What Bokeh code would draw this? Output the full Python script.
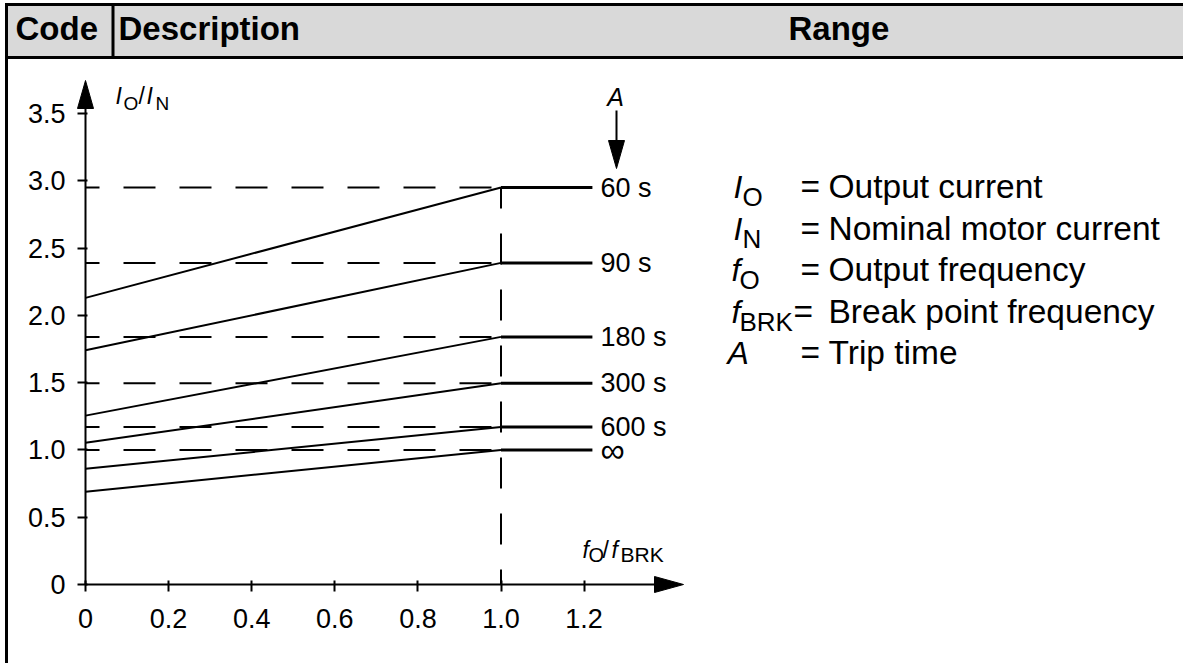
from bokeh.plotting import figure
from bokeh.models import Range1d, FixedTicker, ColumnDataSource
from bokeh.core.properties import value
from bokeh.embed import file_html
from bokeh.resources import INLINE

# ---------------- data ----------------
header_labels = ["Code", "Description", "Range"]
trip_labels = ["60 s", "90 s", "180 s", "300 s", "600 s", "\u221e"]
ratio_at_zero = [2.13, 1.74, 1.255, 1.053, 0.86, 0.69]
ratio_at_break = [2.95, 2.39, 1.84, 1.495, 1.17, 1.00]
freq_break = 1.0
freq_end = 1.22
x_ticks = [0, 0.2, 0.4, 0.6, 0.8, 1.0, 1.2]
x_tick_labels = ["0", "0.2", "0.4", "0.6", "0.8", "1.0", "1.2"]
y_ticks = [0, 0.5, 1.0, 1.5, 2.0, 2.5, 3.0, 3.5]
y_tick_labels = ["0", "0.5", "1.0", "1.5", "2.0", "2.5", "3.0", "3.5"]
legend_symbols = ["I", "I", "f", "f", "A"]
legend_subscripts = ["O", "N", "O", "BRK", ""]
legend_texts = ["Output current", "Nominal motor current", "Output frequency",
                "Break point frequency", "Trip time"]

# ---------------- layout helpers (reference pixel -> data) ----------------
W, H = 1183, 663
X0, XS = 85.0, 415.5
Y0, YS = 584.0, 134.57


def X(px):
    return (px - X0) / XS


def Y(py):
    return (Y0 - py) / YS


FONT = value("Liberation Sans")

p = figure(width=W, height=H, output_backend="svg", toolbar_location=None, tools="",
           x_range=Range1d(X(0), X(W)), y_range=Range1d(Y(H), Y(0)),
           min_border=0)
p.outline_line_color = None
p.grid.visible = False
p.background_fill_color = "white"
p.border_fill_color = "white"


def txt(xs, bases, texts, size, style="normal", align="left"):
    # bases: baseline positions in reference pixels; drawn with a middle baseline
    ys = [Y(b - 0.35 * size) for b in bases]
    p.text(x=xs, y=ys, text=texts, text_font=FONT, text_font_size=f"{size}px",
           text_font_style=style, text_align=align, text_baseline="middle",
           text_color="black")


# ---------------- table frame ----------------
p.quad(left=X(5), right=X(1200), top=Y(4), bottom=Y(57), fill_color="#d9d9d9", line_color=None)
p.line([X(4.5), X(1200)], [Y(4), Y(4)], line_color="black", line_width=3)
p.line([X(4.5), X(1200)], [Y(57), Y(57)], line_color="black", line_width=3)
p.line([X(6), X(6)], [Y(2.5), Y(700)], line_color="black", line_width=3)
p.line([X(112.5), X(112.5)], [Y(4), Y(57)], line_color="black", line_width=3)
txt([X(15), X(118), X(788)], [40] * 3, header_labels, 33, "bold")

# ---------------- axes ----------------
for ax in (p.xaxis[0], p.yaxis[0]):
    ax.fixed_location = 0
    ax.axis_line_color = None
    ax.major_tick_line_color = "black"
    ax.major_tick_line_width = 2
    ax.minor_tick_line_color = None
    ax.major_label_text_font = "Liberation Sans"
    ax.major_label_text_font_size = "27px"
    ax.major_label_text_color = "black"

p.xaxis[0].ticker = FixedTicker(ticks=x_ticks)
p.xaxis[0].major_label_overrides = dict(zip(x_ticks, x_tick_labels))
p.xaxis[0].major_tick_in = 4
p.xaxis[0].major_tick_out = 7
p.xaxis[0].major_label_standoff = 17

p.yaxis[0].ticker = FixedTicker(ticks=y_ticks)
p.yaxis[0].major_label_overrides = dict(zip(y_ticks, y_tick_labels))
p.yaxis[0].major_tick_in = 2
p.yaxis[0].major_tick_out = 8
p.yaxis[0].major_label_standoff = 12

# axis lines with arrow heads
p.line([0, 0], [0, Y(106)], line_color="black", line_width=2)
p.patch([X(77), X(85), X(93)], [Y(108), Y(80), Y(108)], color="black")
p.line([0, X(656)], [0, 0], line_color="black", line_width=2)
p.patch([X(654), X(683), X(654)], [Y(576), Y(584), Y(592)], color="black")

# axis titles
txt([X(115)], [104], ["I"], 23, "italic")
txt([X(123)], [110], ["O"], 19)
txt([X(138)], [104], ["/"], 23)
txt([X(146)], [104], ["I"], 23, "italic")
txt([X(155)], [110], ["N"], 19)

txt([X(582)], [558], ["f"], 23, "italic")
txt([X(588)], [561], ["O"], 20)
txt([X(602)], [558], ["/"], 23)
txt([X(611)], [558], ["f"], 23, "italic")
txt([X(620)], [561], ["BRK"], 21)

# ---------------- reference dashed lines ----------------
p.segment(x0=[0] * len(ratio_at_break), x1=[freq_break] * len(ratio_at_break),
          y0=ratio_at_break, y1=ratio_at_break,
          line_color="black", line_width=2, line_dash="32 24", line_dash_offset=18)
p.segment(x0=[freq_break], x1=[freq_break], y0=[0], y1=[max(ratio_at_break)],
          line_color="black", line_width=2, line_dash="31 25", line_dash_offset=16)

# ---------------- trip curves ----------------
for r0, rb in zip(ratio_at_zero, ratio_at_break):
    p.line([0, freq_break], [r0, rb], line_color="black", line_width=2)
p.segment(x0=[freq_break] * len(ratio_at_break), x1=[freq_end] * len(ratio_at_break),
          y0=ratio_at_break, y1=ratio_at_break, line_color="black", line_width=3)
label_src = ColumnDataSource(dict(
    x=[freq_end] * len(trip_labels), y=ratio_at_break, text=trip_labels,
    size=["34px" if t == "\u221e" else "27px" for t in trip_labels]))
p.text(x="x", y="y", text="text", source=label_src, x_offset=8,
       text_font=FONT, text_font_size="size", text_align="left", text_baseline="middle",
       text_color="black")

# trip time arrow "A"
txt([X(615)], [105], ["A"], 25, "italic", align="center")
p.line([X(616), X(616)], [Y(110), Y(142)], line_color="black", line_width=2)
p.patch([X(608), X(616), X(624)], [Y(140), Y(168), Y(140)], color="black")

# ---------------- legend of symbols ----------------
row_base = [198 + 41.5 * i for i in range(len(legend_texts))]
sym_x = [733, 733, 731, 731, 727]
sub_x = [742, 742, 739, 739, 0]
eq_x = [800, 800, 800, 793, 800]
txt([X(v) for v in sym_x], row_base, legend_symbols, 32, "italic")
subs = [(X(sx), b + 8, s) for sx, b, s in zip(sub_x, row_base, legend_subscripts) if s]
txt([s[0] for s in subs], [s[1] for s in subs], [s[2] for s in subs], 26)
txt([X(v) for v in eq_x], row_base, ["="] * len(legend_texts), 33.5)
txt([X(828)] * len(legend_texts), row_base, legend_texts, 33.5)

open("out.html", "w").write(file_html(p, INLINE))
